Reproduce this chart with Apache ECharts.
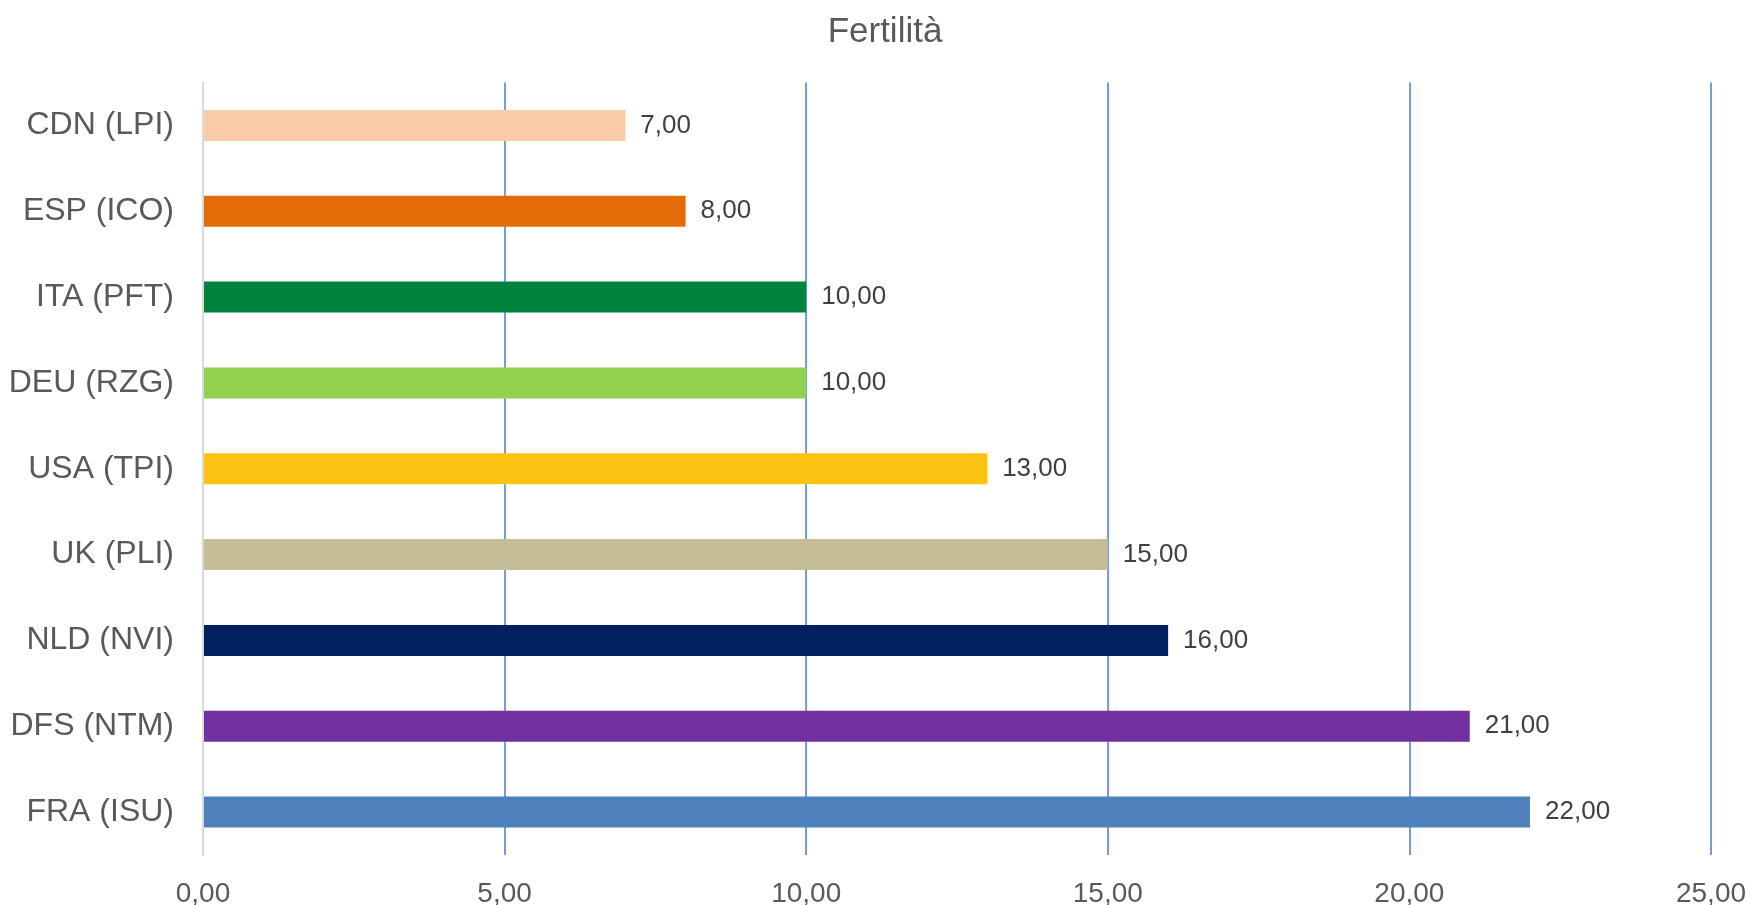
<!DOCTYPE html>
<html>
<head>
<meta charset="utf-8">
<title>Fertilità</title>
<script src="https://cdn.jsdelivr.net/npm/echarts@6/dist/echarts.min.js"></script>
<style>
  html, body { margin: 0; padding: 0; background: #fff; }
  #chart { width: 1752px; height: 905px; }
</style>
</head>
<body>
<div id="chart"></div>
<script>
var categories = ['CDN (LPI)', 'ESP (ICO)', 'ITA (PFT)', 'DEU (RZG)', 'USA (TPI)', 'UK (PLI)', 'NLD (NVI)', 'DFS (NTM)', 'FRA (ISU)'];
var values = [7, 8, 10, 10, 13, 15, 16, 21, 22];
var barColors = ['#f9cba7', '#e36c09', '#00843d', '#92d050', '#fdc313', '#c4bd97', '#002060', '#7030a0', '#4f81bd'];
var tickMin = 0;
var tickMax = 25;
var tickStep = 5;

var chart = echarts.init(document.querySelector('#chart'), null);
var fmt = function (v) {
    return v.toFixed(2).replace('.', ',');
};
var option = {
    backgroundColor: '#ffffff',
    textStyle: { fontFamily: 'Liberation Sans, Arial, sans-serif' },
    title: {
        text: 'Fertilità',
        left: 880,
        top: 10,
        textAlign: 'center',
        textStyle: {
            fontSize: 35,
            fontWeight: 'normal',
            color: '#595959',
            fontFamily: 'Liberation Sans, Arial, sans-serif'
        }
    },
    grid: {
        top: 82.5,
        left: 203,
        right: 41,
        bottom: 50,
        containLabel: false,
        outerBoundsMode: 'none'
    },
    xAxis: {
        type: 'value',
        min: tickMin,
        max: tickMax,
        interval: tickStep,
        axisLine: { show: false },
        axisTick: { show: false },
        axisLabel: {
            fontSize: 28,
            color: '#595959',
            margin: 25,
            formatter: fmt
        },
        splitLine: {
            show: true,
            lineStyle: { color: '#4a7ebb', width: 1.5 }
        }
    },
    yAxis: {
        type: 'category',
        inverse: true,
        data: categories,
        axisLine: { show: true, lineStyle: { color: '#d9d9d9', width: 2 } },
        axisTick: { show: false },
        axisLabel: {
            fontSize: 32,
            color: '#595959',
            margin: 29
        },
        z: 3
    },
    series: [
        {
            name: 'Fertilità',
            type: 'bar',
            barWidth: 31,
            data: values.map(function (v, i) {
                return { value: v, itemStyle: { color: barColors[i] } };
            }),
            label: {
                show: true,
                position: 'right',
                distance: 15,
                fontSize: 26,
                color: '#404040',
                formatter: function (d) {
                    return fmt(d.value);
                }
            }
        }
    ]
};

if (option && typeof option === 'object') {
    chart.setOption(option);
}

window.addEventListener('resize', function () {
    chart.resize();
})
</script>
</body>
</html>
